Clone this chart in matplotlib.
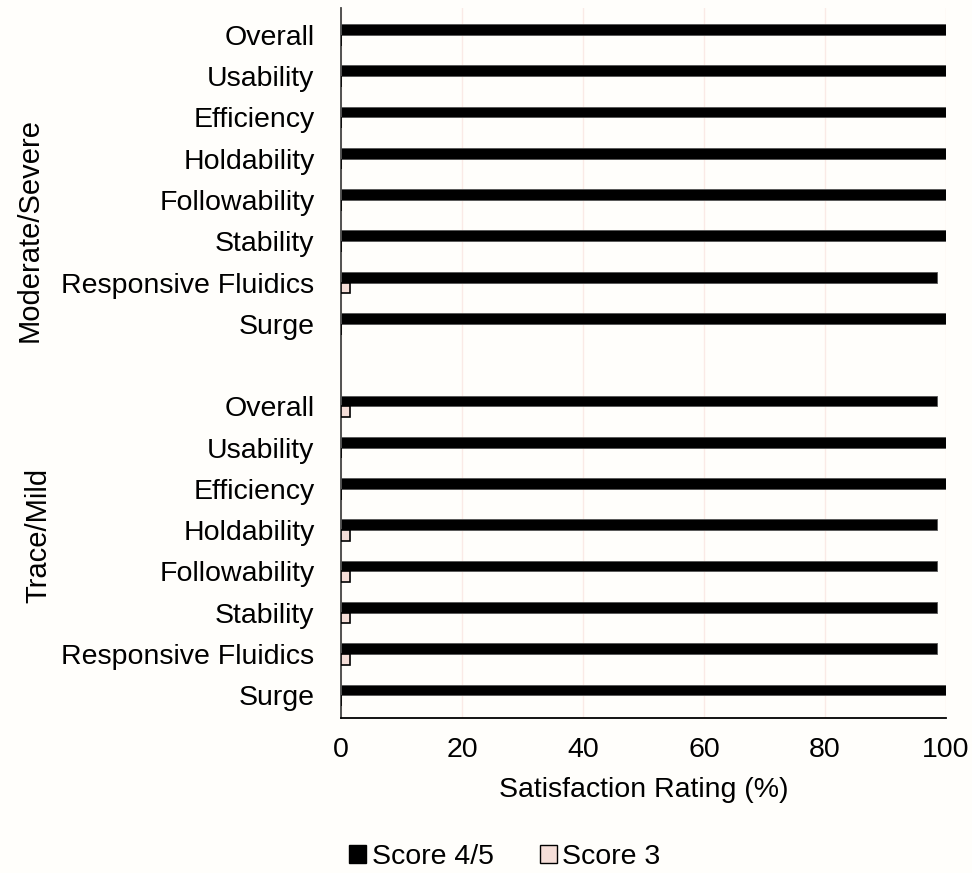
import matplotlib.pyplot as plt
import numpy as np
from matplotlib.patches import Patch

plt.rcParams['font.family'] = ['Liberation Sans', 'DejaVu Sans']

# categories, top to bottom within each group
items = ['Overall', 'Usability', 'Efficiency', 'Holdability', 'Followability',
         'Stability', 'Responsive Fluidics', 'Surge']
groups = ['Moderate/Severe', 'Trace/Mild']

# Score 4/5 and Score 3 (%), same order as items
mod_score45 = [100, 100, 100, 100, 100, 100, 98.5, 100]
mod_score3 = [0, 0, 0, 0, 0, 0, 1.5, 0]
mild_score45 = [98.5, 100, 100, 98.5, 98.5, 98.5, 98.5, 100]
mild_score3 = [1.5, 0, 0, 1.5, 1.5, 1.5, 1.5, 0]

fs = 20.5
bg = '#FFFEFB'
fig = plt.figure(figsize=(9.72, 8.73), dpi=100, facecolor=bg)
ax = fig.add_axes([341/972, 1 - 718/873, 605/972, (718 - 8)/873])
ax.set_facecolor(bg)

# slot positions: group 1 at 0..7, empty slot 8, group 2 at 9..16
pos = np.concatenate([np.arange(8), np.arange(9, 17)])
s45 = mod_score45 + mild_score45
s3 = mod_score3 + mild_score3
labels = items + items

h = 0.26
ax.barh(pos - h / 2, s45, height=h, color='black', edgecolor='#555555',
        linewidth=0.6, label='Score 4/5', zorder=3)
ax.barh(pos + h / 2, s3, height=h, color='#F5DED8', edgecolor='black',
        linewidth=1.2, label='Score 3', zorder=3)

ax.set_ylim(16.55, -0.65)
ax.set_xlim(0, 100)
ax.set_yticks(pos)
ax.set_yticklabels(labels, fontsize=fs)
ax.set_xticks([0, 20, 40, 60, 80, 100])
ax.tick_params(axis='x', labelsize=fs, length=0, pad=14)
ax.tick_params(axis='y', length=0, pad=19)
ax.grid(axis='x', color='#FAEAE6', linewidth=1.0, zorder=0)

for sp in ['top', 'right']:
    ax.spines[sp].set_visible(False)
ax.spines['left'].set_color('#444444')
ax.spines['left'].set_linewidth(1.3)
ax.spines['bottom'].set_color('black')
ax.spines['bottom'].set_linewidth(1.3)

ax.set_xlabel('Satisfaction Rating (%)', fontsize=fs, labelpad=10)

fig.text(30/972, 1 - 230/873, groups[0], rotation=90, fontsize=21,
         ha='center', va='center')
fig.text(38/972, 1 - 535/873, groups[1], rotation=90, fontsize=21,
         ha='center', va='center')

handles = [Patch(facecolor='black', edgecolor='black', label='Score 4/5'),
           Patch(facecolor='#F5DED8', edgecolor='black', label='Score 3')]
fig.legend(handles=handles, loc='center', bbox_to_anchor=(505/972, 1 - 857/873),
           ncol=2, frameon=False, fontsize=fs, handlelength=0.6,
           handleheight=0.6, handletextpad=0.2, columnspacing=1.6)

fig.savefig('out.png', dpi=100, facecolor=bg)
